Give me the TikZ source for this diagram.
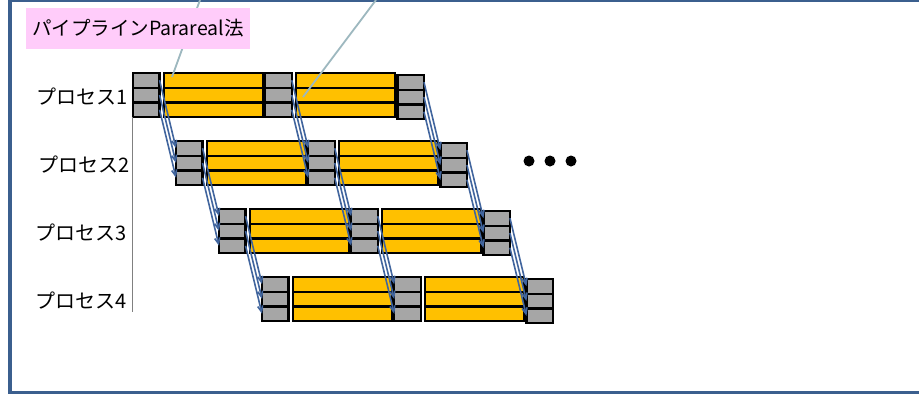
\documentclass[tikz,border=0pt]{standalone}
\usepackage{fontspec}
\setmainfont{Noto Sans CJK JP}
\usetikzlibrary{arrows.meta}
\definecolor{frameblue}{HTML}{3B5F8E}
\definecolor{cellgray}{HTML}{A6A6A6}
\definecolor{cellyellow}{HTML}{FFC000}
\definecolor{arrowblue}{HTML}{41659E}
\definecolor{calloutline}{HTML}{9DB8BF}
\definecolor{pinkfill}{HTML}{FFCCFA}
\tikzset{
  frameline/.style={draw=frameblue, line width=3.6pt},
  gcell/.style={draw=black, fill=cellgray, line width=2.2pt, minimum width=26.5pt, minimum height=14.8pt, inner sep=0pt, outer sep=0pt},
  ycell/.style={draw=black, fill=cellyellow, line width=2.2pt, minimum width=98.5pt, minimum height=14.8pt, inner sep=0pt, outer sep=0pt},
  flowarrow/.style={draw=arrowblue, line width=1.6pt, -{Straight Barb[length=6pt,width=5pt]}},
  lbl/.style={font=\fontsize{20}{22}\selectfont, inner sep=0pt, anchor=east},
  pinkbox/.style={fill=pinkfill, minimum width=224pt, minimum height=41pt, inner sep=0pt, font=\fontsize{19.5}{22}\selectfont},
  callout/.style={draw=calloutline, line width=1.8pt},
  axisline/.style={draw=gray, line width=0.8pt},
  bigdot/.style={circle, fill=black, minimum size=11pt, inner sep=0pt}
}
\begin{document}
\begin{tikzpicture}[x=1pt,y=-1pt]
\clip (0,0) rectangle (919,397);
\fill[white] (0,0) rectangle (919,397);
\draw[frameline] (9.7,0.3) rectangle (960,392.5);

% cells
\foreach \r in {0,1,2,3}{
  \foreach \c in {0,1,2}{
    \foreach \i in {1,2,3}{
      \pgfmathsetmacro\gx{133 + 43*\r + 132.2*\c + 13.3}
      \pgfmathsetmacro\yoff{(\c==2)*2}
      \pgfmathsetmacro\cy{72.8 + 68*\r + \yoff + (\i-0.5)*14.8}
      \node[gcell] (g-\r-\c-\i) at (\gx,\cy) {};
    }
  }
  \foreach \c in {0,1}{
    \foreach \i in {1,2,3}{
      \pgfmathsetmacro\yx{133 + 43*\r + 31.3 + 132*\c + 49.3}
      \pgfmathsetmacro\cy{72.8 + 68*\r + (\i-0.5)*14.8}
      \node[ycell] (y-\r-\c-\i) at (\yx,\cy) {};
    }
  }
}

% process labels
\node[lbl] (p1) at (128,97) {プロセス1};
\node[lbl] (p2) at (130,165) {プロセス2};
\node[lbl] (p3) at (127,233) {プロセス3};
\node[lbl] (p4) at (127,301) {プロセス4};

% vertical axis line
\coordinate (v1) at (132.3,117);
\coordinate (v2) at (132.3,312);
\draw[axisline] (v1) -- (v2);

% arrows between processes
\foreach \r in {0,1,2}{
  \pgfmathtruncatemacro\nr{\r+1}
  \foreach \c in {0,1,2}{
    \foreach \i in {1,2,3}{
      \draw[flowarrow] (g-\r-\c-\i.east) -- (g-\nr-\c-\i.west);
    }
  }
}

% callout lines
\coordinate (c1) at (200,0);
\coordinate (t1) at (172,77);
\coordinate (c2) at (376,0);
\coordinate (t2) at (303,97);
\draw[callout] (c1) -- (t1);
\draw[callout] (c2) -- (t2);

% title box
\node[pinkbox] (title) at (138,28) {パイプラインParareal法};

% dots
\node[bigdot] (d1) at (529,161) {};
\node[bigdot] (d2) at (550,161) {};
\node[bigdot] (d3) at (571,161) {};
\end{tikzpicture}
\end{document}
